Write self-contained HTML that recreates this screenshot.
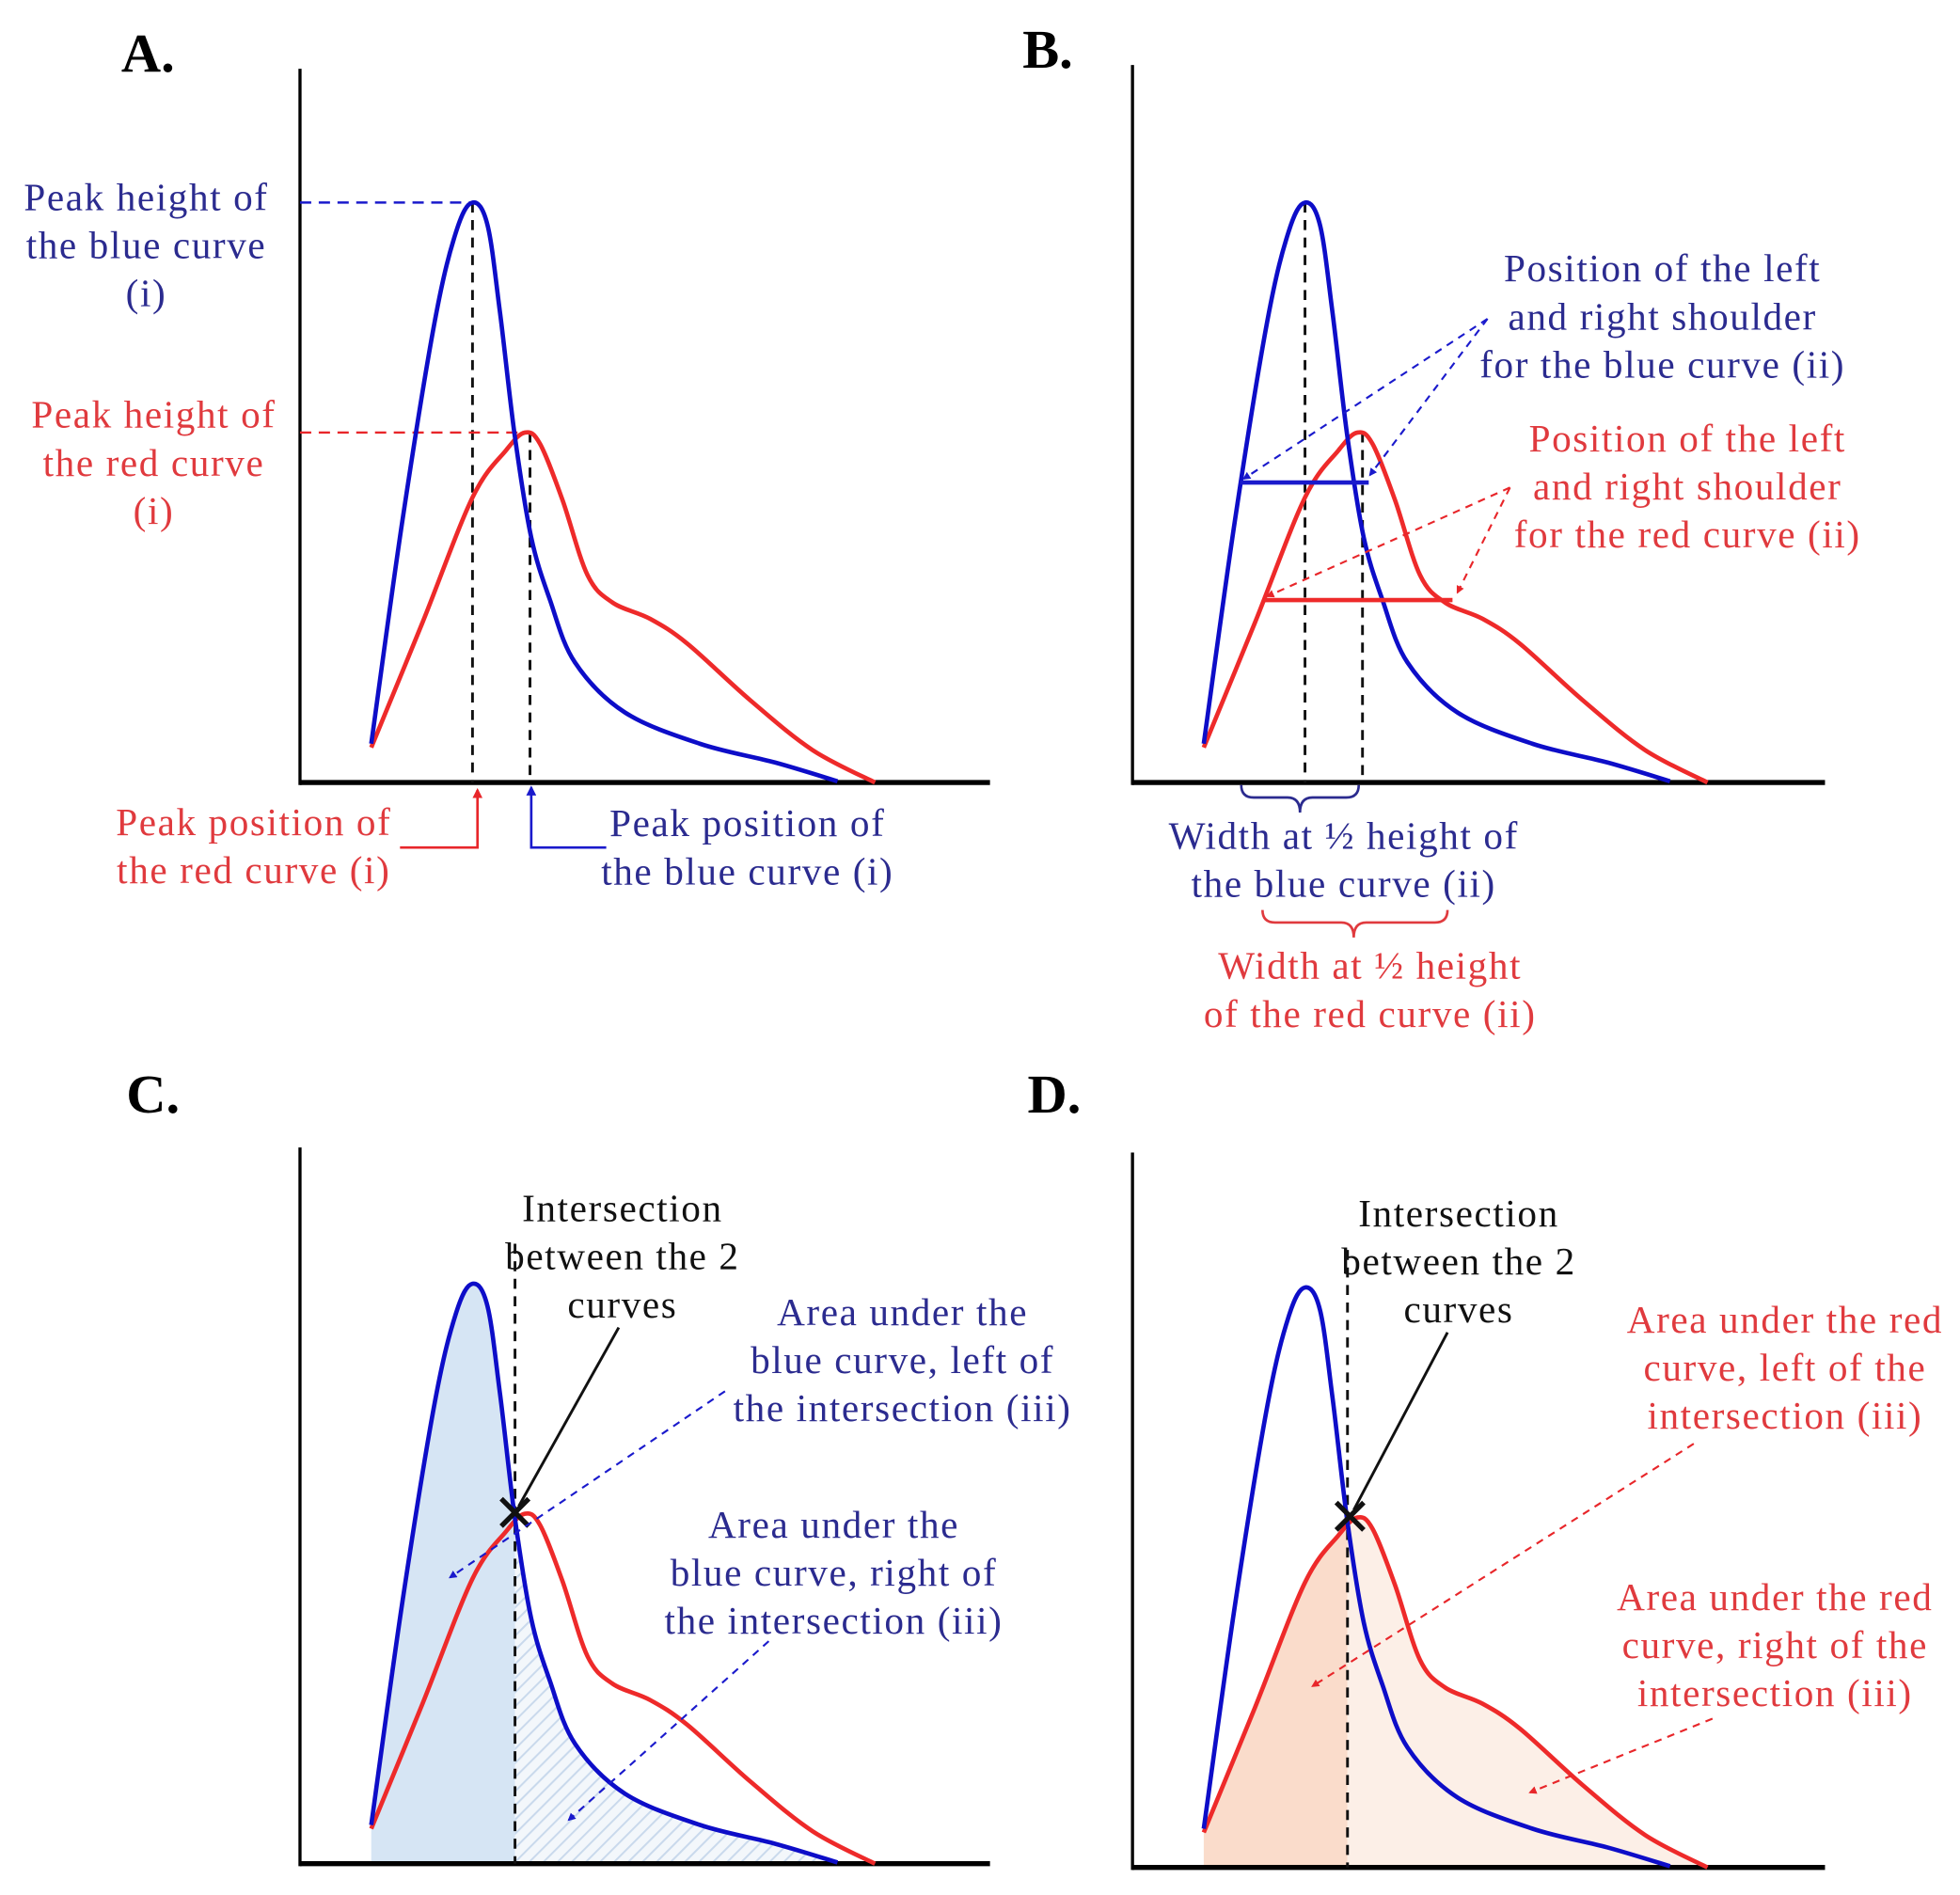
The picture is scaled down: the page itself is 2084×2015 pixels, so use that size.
<!DOCTYPE html>
<html><head><meta charset="utf-8">
<style>
html,body{margin:0;padding:0;background:#fff;}
svg{display:block;}
text{font-family:"Liberation Serif",serif;font-size:31px;letter-spacing:1.2px;}
.bl{fill:#2b2b8f;}
.rd{fill:#e03a3e;}
.bk{fill:#111;}
.pl{font-family:"Liberation Serif",serif;font-weight:bold;font-size:44px;fill:#000;letter-spacing:0;}
</style></head>
<body>
<svg id="fig" width="2084" height="2015" viewBox="0 0 1568 1516" xmlns="http://www.w3.org/2000/svg">
<defs>
<marker id="ab" viewBox="0 0 10 10" refX="8" refY="5" markerWidth="4" markerHeight="4" orient="auto-start-reverse"><path d="M0,0 L10,5 L0,10 z" fill="#1a1acc"/></marker>
<marker id="ar" viewBox="0 0 10 10" refX="8" refY="5" markerWidth="4" markerHeight="4" orient="auto-start-reverse"><path d="M0,0 L10,5 L0,10 z" fill="#e8262a"/></marker>
<pattern id="hatch" width="8" height="8" patternUnits="userSpaceOnUse" patternTransform="rotate(45)"><rect width="8" height="8" fill="#f3f7fb"/><line x1="0" y1="0" x2="0" y2="8" stroke="#c9d9ec" stroke-width="3"/></pattern>
</defs>
<g id="root"></g>
</svg>
<script>
// curve data: x position (arbitrary units), intensity (arbitrary units)
const blueX = [57,82,108,125,138,150,160,172,185,200,220,260,320,380,430];
const blueY = [31,210,370,441,464,446,376,276,196,146,96,56,31,16,1];
const redX = [57,98,138,165,180,192,210,230,250,280,310,360,410,460];
const redY = [28,128,228,266,280,271,226,166,144,131,111,66,26,0];
const intersectX = 172;

const NS='http://www.w3.org/2000/svg';
const root=document.getElementById('root');
function mk(tag,attrs,parent){const e=document.createElementNS(NS,tag);for(const k in attrs)e.setAttribute(k,attrs[k]);(parent||root).appendChild(e);return e;}

const panels=[{id:'a',ox:240,oy:626,top:55,right:792},{id:'b',ox:906,oy:626,top:52,right:1460},{id:'c',ox:240,oy:1491,top:918,right:792},{id:'d',ox:906,oy:1494,top:922,right:1460}];

function pathOf(xs,ys,p){
  const pts=xs.map((x,i)=>[p.ox+x,p.oy-ys[i]]);
  let d='M'+pts[0][0]+','+pts[0][1];
  for(let i=0;i<pts.length-1;i++){
    const p0=pts[Math.max(0,i-1)],p1=pts[i],p2=pts[i+1],p3=pts[Math.min(pts.length-1,i+2)];
    const c1=[p1[0]+(p2[0]-p0[0])/6,p1[1]+(p2[1]-p0[1])/6];
    const c2=[p2[0]-(p3[0]-p1[0])/6,p2[1]-(p3[1]-p1[1])/6];
    d+=' C'+c1[0].toFixed(1)+','+c1[1].toFixed(1)+' '+c2[0].toFixed(1)+','+c2[1].toFixed(1)+' '+p2[0]+','+p2[1];
  }
  return {d,first:pts[0],last:pts[pts.length-1]};
}
function fillPath(xs,ys,p){const r=pathOf(xs,ys,p);return r.d+' L'+r.last[0]+','+p.oy+' L'+r.first[0]+','+p.oy+' Z';}

function texts(lines,cx,y0,cls,name,g){
  const t=mk('text',{x:cx,y:y0,'text-anchor':'middle','class':cls},g);
  
  
  lines.forEach((l,i)=>{const s=mk('tspan',{x:cx,dy:i?38.5:0},t);s.textContent=l;});
}
function line(x1,y1,x2,y2,st,g,name){
  const l=mk('line',Object.assign({x1,y1,x2,y2},st),g);
  
  
  return l;
}
const dashBk={stroke:'#111','stroke-width':2.2,'stroke-dasharray':'8,6'};
const dashB={stroke:'#1a1acc','stroke-width':1.6,'stroke-dasharray':'6,5','marker-end':'url(#ab)'};
const dashR={stroke:'#e8262a','stroke-width':1.6,'stroke-dasharray':'6,5','marker-end':'url(#ar)'};

panels.forEach(p=>{
  const g=mk('g',{});
  
  
  const cid='clip-'+p.id;
  const cpL=mk('clipPath',{id:cid+'L'},g);mk('rect',{x:0,y:0,width:p.ox+intersectX,height:1516},cpL);
  const cpR=mk('clipPath',{id:cid+'R'},g);mk('rect',{x:p.ox+intersectX,y:0,width:1568,height:1516},cpR);
  if(p.id==='c'){
    const f1=mk('path',{d:fillPath(blueX,blueY,p),fill:'#d6e5f4','clip-path':'url(#'+cid+'L)'},g);
    
    
    const f2=mk('path',{d:fillPath(blueX,blueY,p),fill:'url(#hatch)','clip-path':'url(#'+cid+'R)'},g);
    
    
  }
  if(p.id==='d'){
    const f1=mk('path',{d:fillPath(redX,redY,p),fill:'#fadccb','clip-path':'url(#'+cid+'L)'},g);
    
    
    const f2=mk('path',{d:fillPath(redX,redY,p),fill:'#fcefe7','clip-path':'url(#'+cid+'R)'},g);
    
    
  }
  line(p.ox,p.top,p.ox,p.oy+2,{stroke:'#000','stroke-width':2.5},g,'y-axis');
  line(p.ox,p.oy,p.right,p.oy,{stroke:'#000','stroke-width':4},g,'x-axis');
  const bi=blueY.indexOf(Math.max(...blueY)), ri=redY.indexOf(Math.max(...redY));
  const bpx=p.ox+blueX[bi], bpy=p.oy-blueY[bi], rpx=p.ox+redX[ri], rpy=p.oy-redY[ri];
  if(p.id==='a'||p.id==='b'){
    line(bpx,bpy,bpx,p.oy,dashBk,g,'blue-peak-position-line');
    line(rpx+4,rpy,rpx+4,p.oy,dashBk,g,'red-peak-position-line');
  } else {
    line(p.ox+intersectX,p.id==='c'?995:1000,p.ox+intersectX,p.oy,dashBk,g,'intersection-line');
  }
  if(p.id==='a'){
    line(p.ox,bpy,bpx,bpy,{stroke:'#1a1acc','stroke-width':1.8,'stroke-dasharray':'9,6'},g,'blue-peak-height-line');
    line(p.ox,rpy,rpx,rpy,{stroke:'#e8262a','stroke-width':1.8,'stroke-dasharray':'9,6'},g,'red-peak-height-line');
  }
  const rc=mk('path',{d:pathOf(redX,redY,p).d,fill:'none',stroke:'#ee2a2a','stroke-width':3.5},g);
  
  
  const bc=mk('path',{d:pathOf(blueX,blueY,p).d,fill:'none',stroke:'#0d0dc8','stroke-width':3.5},g);
  
  
});

[['A.',97,57],['B.',818,54],['C.',101,890],['D.',822,890]].forEach(a=>{
  const t=mk('text',{x:a[1],y:a[2],'class':'pl'});t.textContent=a[0];
  
  
});

texts(['Peak height of','the blue curve','(i)'],117,168,'bl','blue-peak-height-label');
texts(['Peak height of','the red curve','(i)'],123,342,'rd','red-peak-height-label');
texts(['Peak position of','the red curve (i)'],203,668,'rd','red-peak-position-label');
texts(['Peak position of','the blue curve (i)'],598,669,'bl','blue-peak-position-label');
{const pl=mk('polyline',{points:'320,678 382,678 382,632',fill:'none',stroke:'#e8262a','stroke-width':2,'marker-end':'url(#ar)'});


const pb=mk('polyline',{points:'485,678 425,678 425,630',fill:'none',stroke:'#1a1acc','stroke-width':2,'marker-end':'url(#ab)'});

}

line(992,386,1095,386,{stroke:'#1a1acc','stroke-width':3.5},null,'blue-half-width-line');
line(1012,480,1162,480,{stroke:'#ee2a2a','stroke-width':3.5},null,'red-half-width-line');
texts(['Position of the left','and right shoulder','for the blue curve (ii)'],1330,225,'bl','blue-shoulder-label');
texts(['Position of the left','and right shoulder','for the red curve (ii)'],1350,361,'rd','red-shoulder-label');
line(1190,255,995,383,dashB,null,'blue-shoulder-arrow-left');
line(1190,255,1096,380,dashB,null,'blue-shoulder-arrow-right');
line(1208,390,1014,477,dashR,null,'red-shoulder-arrow-left');
line(1208,390,1166,474,dashR,null,'red-shoulder-arrow-right');
{const b1=mk('path',{d:'M993,628 Q993,638 1003,638 L1030,638 Q1040,638 1040,650 Q1040,638 1050,638 L1077,638 Q1087,638 1087,628',fill:'none',stroke:'#2b2b8f','stroke-width':2});


const b2=mk('path',{d:'M1010,728 Q1010,738 1020,738 L1073,738 Q1083,738 1083,750 Q1083,738 1093,738 L1148,738 Q1158,738 1158,728',fill:'none',stroke:'#e03a3e','stroke-width':2});

}
texts(['Width at ½ height of','the blue curve (ii)'],1075,679,'bl','blue-width-label');
texts(['Width at ½ height','of the red curve (ii)'],1096,783,'rd','red-width-label');

function cross(x,y,name){const g=mk('g',{});
  mk('line',{x1:x-11,y1:y-11,x2:x+11,y2:y+11,stroke:'#111','stroke-width':4},g);mk('line',{x1:x-11,y1:y+11,x2:x+11,y2:y-11,stroke:'#111','stroke-width':4},g);}
cross(412,1210,'intersection-marker');
line(495,1062,415,1205,{stroke:'#111','stroke-width':2.2},null,'intersection-pointer');
texts(['Intersection','between the 2','curves'],498,977,'bk','intersection-label');
texts(['Area under the','blue curve, left of','the intersection (iii)'],722,1060,'bl','blue-left-area-label');
texts(['Area under the','blue curve, right of','the intersection (iii)'],667,1230,'bl','blue-right-area-label');
line(580,1113,360,1262,dashB,null,'blue-left-area-arrow');
line(615,1313,455,1456,dashB,null,'blue-right-area-arrow');

cross(1080,1213,'intersection-marker');
line(1158,1066,1083,1208,{stroke:'#111','stroke-width':2.2},null,'intersection-pointer');
texts(['Intersection','between the 2','curves'],1167,981,'bk','intersection-label');
texts(['Area under the red','curve, left of the','intersection (iii)'],1428,1066,'rd','red-left-area-label');
texts(['Area under the red','curve, right of the','intersection (iii)'],1420,1288,'rd','red-right-area-label');
line(1355,1155,1050,1349,dashR,null,'red-left-area-arrow');
line(1370,1375,1224,1434,dashR,null,'red-right-area-arrow');
</script>
</body></html>
